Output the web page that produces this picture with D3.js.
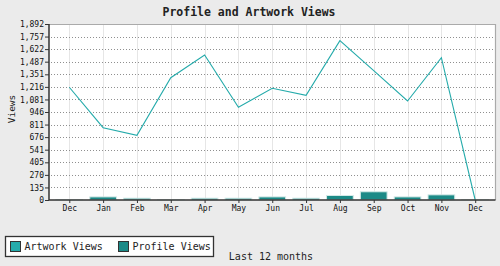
<!DOCTYPE html>
<html><head><meta charset="utf-8">
<script src="https://cdn.jsdelivr.net/npm/d3@7"></script>
<style>
html,body{margin:0;padding:0;background:#ebebeb;}
svg{display:block;font-family:"DejaVu Sans Mono",monospace;}
</style></head>
<body>
<svg id="c" width="500" height="266"></svg>
<script>
const categories = ["Dec","Jan","Feb","Mar","Apr","May","Jun","Jul","Aug","Sep","Oct","Nov","Dec"];
const artworkViews = [1212, 777, 695, 1315, 1559, 996, 1201, 1125, 1713, 1390, 1064, 1530, 0];
const profileViews = [0, 28, 14, 0, 14, 14, 28, 14, 43, 83, 28, 50, 0];
const yTicks = [0,135,270,405,541,676,811,946,1081,1216,1351,1487,1622,1757,1892];
const yMax = 1892;
const seriesNames = ["Artwork Views","Profile Views"];
const colors = {line:"#25abab", bar:"#1c8a87"};

const svg = d3.select("#c");
const L = 49, R = 495.5, T = 24, B = 200;
const idx = categories.map((d,i)=>i);
const x = d3.scalePoint().domain(idx).range([L,R]).padding(0.6);
const y = d3.scaleLinear().domain([0,yMax]).range([B,T]);

svg.append("rect").attr("x",L).attr("y",T).attr("width",R-L).attr("height",B-T).attr("fill","#fff");

// vertical grid
svg.append("g").selectAll("line").data(idx).join("line")
  .attr("x1",d=>Math.round(x(d))+0.5).attr("x2",d=>Math.round(x(d))+0.5)
  .attr("y1",T).attr("y2",B).attr("stroke","#e6e6e6").attr("stroke-width",1);

// horizontal dotted grid
svg.append("g").selectAll("line").data(yTicks.slice(1,-1)).join("line")
  .attr("x1",L+2).attr("x2",R-1)
  .attr("y1",d=>Math.round(y(d))+0.5).attr("y2",d=>Math.round(y(d))+0.5)
  .attr("stroke","#8f8f8f").attr("stroke-width",1).attr("stroke-dasharray","1,2");

// top & right border
svg.append("path").attr("d",`M${L},${T+0.5}H${R}V${B}`).attr("fill","none").attr("stroke","#aaa").attr("stroke-width",1.2);

// bars
const bw = x.step()*0.79;
svg.append("g").selectAll("rect").data(idx).join("rect")
  .attr("x",d=>x(d)-bw/2).attr("width",bw)
  .attr("y",d=>y(profileViews[d])-0.5)
  .attr("height",d=>B-y(profileViews[d])+0.5)
  .attr("fill",colors.bar).attr("stroke","#d4e9e7").attr("stroke-width",1);

// line
svg.append("path").datum(idx)
  .attr("d",d3.line().x(d=>x(d)).y(d=>y(artworkViews[d])))
  .attr("fill","none").attr("stroke",colors.line).attr("stroke-width",1.1);

// axes
const yAxis = d3.axisLeft(y).tickValues(yTicks).tickSize(4).tickPadding(1).tickFormat(d3.format(","));
const gy = svg.append("g").attr("transform",`translate(${L},0)`).call(yAxis);
const xAxis = d3.axisBottom(x).tickSize(3).tickPadding(2).tickFormat(i=>categories[i]);
const gx = svg.append("g").attr("transform",`translate(0,${B})`).call(xAxis);
[gy,gx].forEach(g=>{
  g.select(".domain").remove();
  g.selectAll(".tick line").attr("stroke","#333");
  g.selectAll("text").attr("font-family","DejaVu Sans Mono, monospace").attr("font-size",8).attr("fill","#111");
});
svg.append("path").attr("d",`M${L},${T}V${B}H${R}`).attr("fill","none").attr("stroke","#333").attr("stroke-width",1.5);

// title
svg.append("text").attr("x",249).attr("y",15.5).attr("text-anchor","middle")
  .attr("font-size",11.5).attr("font-weight","bold").attr("fill","#222").text("Profile and Artwork Views");
// y label
svg.append("text").attr("transform","translate(15,109) rotate(-90)").attr("text-anchor","middle")
  .attr("font-size",9.5).attr("fill","#222").text("Views");
// x label
svg.append("text").attr("x",271).attr("y",259.5).attr("text-anchor","middle")
  .attr("font-size",10).attr("fill","#222").text("Last 12 months");

// legend
const lg = svg.append("g");
lg.append("rect").attr("x",5.5).attr("y",236.5).attr("width",208).attr("height",20)
  .attr("fill","#fff").attr("stroke","#333").attr("stroke-width",1.3);
const legendX = [10.5, 118.5];
const legendColors = [colors.line, colors.bar];
seriesNames.forEach((n,i)=>{
  lg.append("rect").attr("x",legendX[i]).attr("y",241.5).attr("width",10).attr("height",10)
    .attr("fill",legendColors[i]).attr("stroke","#333").attr("stroke-width",1);
  lg.append("text").attr("x",legendX[i]+14).attr("y",250).attr("font-size",10).attr("fill","#222").text(n);
});
</script>
</body></html>
